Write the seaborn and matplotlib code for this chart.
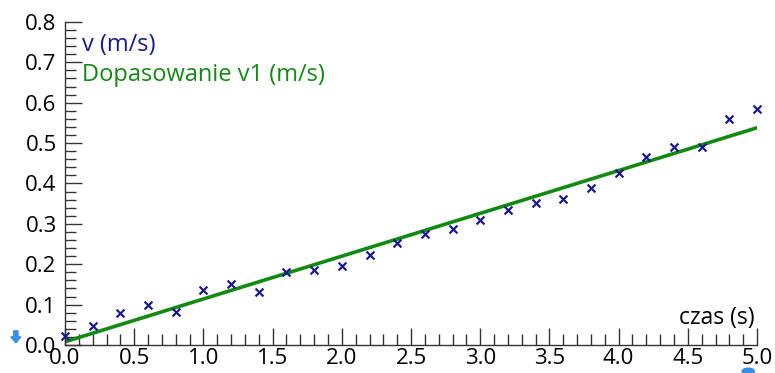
import matplotlib
matplotlib.use("Agg")
import matplotlib.pyplot as plt
import matplotlib.patches as mpatches
import seaborn as sns
import pandas as pd
from matplotlib.ticker import MultipleLocator

# measured points: time (s) and velocity (m/s)
czas = [0.0, 0.2, 0.4, 0.6, 0.8, 1.0, 1.2, 1.4, 1.6, 1.8, 2.0, 2.2, 2.4,
        2.6, 2.8, 3.0, 3.2, 3.4, 3.6, 3.8, 4.0, 4.2, 4.4, 4.6, 4.8, 5.0]
v = [0.022, 0.047, 0.078, 0.098, 0.082, 0.136, 0.150, 0.130, 0.180, 0.185,
     0.195, 0.222, 0.252, 0.274, 0.288, 0.309, 0.334, 0.352, 0.361, 0.389,
     0.425, 0.465, 0.491, 0.490, 0.559, 0.584]

# fitted line end points
fit_czas = [0.0, 5.0]
fit_v = [0.008, 0.538]

navy = "#1a1a8c"
green = "#128a12"

df = pd.DataFrame({"czas": czas, "v": v})
df_fit = pd.DataFrame({"czas": fit_czas, "v": fit_v})

sns.set_style("white")
plt.rcParams["font.family"] = ["Open Sans", "DejaVu Sans"]

fig = plt.figure(figsize=(7.75, 3.73), dpi=100)
ax = fig.add_axes([0.0839, 0.0751, 0.8929, 0.866])

sns.scatterplot(data=df, x="czas", y="v", marker="x", color=navy, s=32,
                linewidth=1.6, ax=ax, zorder=3)
sns.lineplot(data=df_fit, x="czas", y="v", color=green, linewidth=2.6, ax=ax, zorder=2)
# keep the end markers whole
for coll in ax.collections:
    coll.set_clip_on(False)

ax.set_xlim(0, 5)
ax.set_ylim(0, 0.8)
ax.xaxis.set_major_locator(MultipleLocator(0.5))
ax.xaxis.set_minor_locator(MultipleLocator(0.1))
ax.yaxis.set_major_locator(MultipleLocator(0.1))
ax.yaxis.set_minor_locator(MultipleLocator(0.02))
ax.xaxis.set_major_formatter(lambda val, pos: f"{val:.1f}")
ax.yaxis.set_major_formatter(lambda val, pos: f"{val:.1f}")

ax.tick_params(which="both", direction="in", color="#333333", width=1,
               left=True, bottom=True, labelsize=16, labelcolor="black")
ax.tick_params(which="major", length=12)
ax.tick_params(which="minor", length=8)
ax.tick_params(axis="y", pad=6)
ax.tick_params(axis="x", pad=2)

for side in ["top", "right"]:
    ax.spines[side].set_visible(False)
for side in ["left", "bottom"]:
    ax.spines[side].set_color("#333333")
    ax.spines[side].set_linewidth(1)

ax.set_xlabel("")
ax.set_ylabel("")

ax.text(0.025, 0.929, "v (m/s)", transform=ax.transAxes, color=navy, fontsize=17,
        va="center", ha="left")
ax.text(0.025, 0.836, "Dopasowanie v1 (m/s)", transform=ax.transAxes, color=green,
        fontsize=17, va="center", ha="left")
ax.text(0.997, 0.083, "czas (s)", transform=ax.transAxes, color="black", fontsize=16.5,
        va="center", ha="right")

# small blue icons at the axis ends
fig.add_artist(mpatches.FancyArrow(0.0205, 0.113, 0, -0.032, width=0.0055,
                                   head_width=0.013, head_length=0.016,
                                   length_includes_head=True, color="#3a8ee6",
                                   transform=fig.transFigure))
fig.add_artist(mpatches.Ellipse((0.9655, 0.004), 0.016, 0.018, color="#3a8ee6",
                                transform=fig.transFigure))

plt.savefig("out.png", dpi=100)
plt.close()
